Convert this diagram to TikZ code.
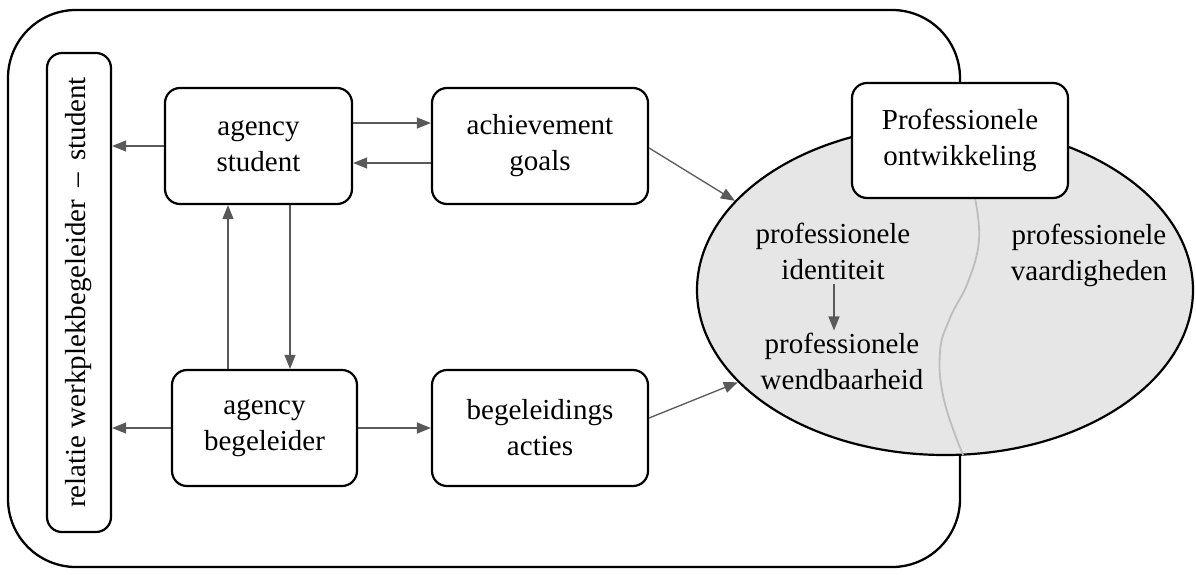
\documentclass[tikz,border=0pt]{standalone}
\usepackage{fontspec}
\setmainfont{Liberation Serif}
\usetikzlibrary{shapes.geometric,arrows.meta}
\definecolor{arrgray}{HTML}{595959}
\definecolor{ellfill}{HTML}{E6E6E6}
\definecolor{wavegray}{HTML}{BDBDBD}
\begin{document}
\begin{tikzpicture}[x=1pt,y=-1pt,
  txt/.style={font=\fontsize{29}{36}\selectfont, align=center, inner sep=0pt},
  boxnode/.style={txt, draw=black, line width=2.2pt, rounded corners=15pt, fill=white},
  arr/.style={draw=arrgray, line width=1.3pt, -{Triangle[length=14pt,width=11pt]}}
]
\useasboundingbox (0,0) rectangle (1196,574);
% outer frame
\draw[line width=2.3pt, rounded corners=68pt] (8,10) rectangle (960,567);
% ellipse
\node[ellipse, draw=black, line width=2.2pt, fill=ellfill, minimum width=496pt, minimum height=330pt, inner sep=0pt] (pe) at (945,290) {};
\draw[wavegray, line width=1.8pt] plot[smooth, tension=0.7] coordinates {(975,198) (979,240) (968,282) (950,318) (940,352) (944,400) (963,455)};
% boxes
\node[boxnode, rotate=90, minimum width=479pt, minimum height=64pt] (rel) at (79,292.5) {relatie werkplekbegeleider \,–\, student};
\node[boxnode, minimum width=187pt, minimum height=116pt] (as) at (258.5,146) {agency\\student};
\node[boxnode, minimum width=216pt, minimum height=116pt] (ag) at (540,146) {achievement\\goals};
\node[boxnode, minimum width=185pt, minimum height=116pt] (ab) at (264.5,428) {agency\\begeleider};
\node[boxnode, minimum width=216pt, minimum height=116pt] (ba) at (540,428) {begeleidings\\acties};
\node[boxnode, minimum width=216pt, minimum height=115pt] (pt) at (960,140.5) {Professionele\\ontwikkeling};
% inner texts
\node[txt] (pid) at (833,251) {professionele\\identiteit};
\node[txt] (pw) at (842,361) {professionele\\wendbaarheid};
\node[txt] (pv) at (1089,255) {professionele\\vaardigheden};
% helper coordinates
\coordinate (c1) at (228,0);
\coordinate (c2) at (290,0);
\coordinate (c3) at (834,0);
% arrows
\draw[arr] (as.west) -- (as.west -| rel.south);
\draw[arr] (ab.west) -- (ab.west -| rel.south);
\draw[arr] ([yshift=23pt]as.east) -- ([yshift=23pt]ag.west);
\draw[arr] ([yshift=-17pt]ag.west) -- ([yshift=-17pt]as.east);
\draw[arr] (ab.north -| c1) -- (as.south -| c1);
\draw[arr] (as.south -| c2) -- (ab.north -| c2);
\draw[arr] (ab.east) -- (ba.west);
\draw[arr] ([yshift=-2pt]ag.east) -- (pe.157);
\draw[arr] ([yshift=10pt]ba.east) -- (pe.204);
\draw[arr] ([yshift=-4pt]pid.south -| c3) -- ([yshift=2pt]pw.north -| c3);
\end{tikzpicture}
\end{document}
